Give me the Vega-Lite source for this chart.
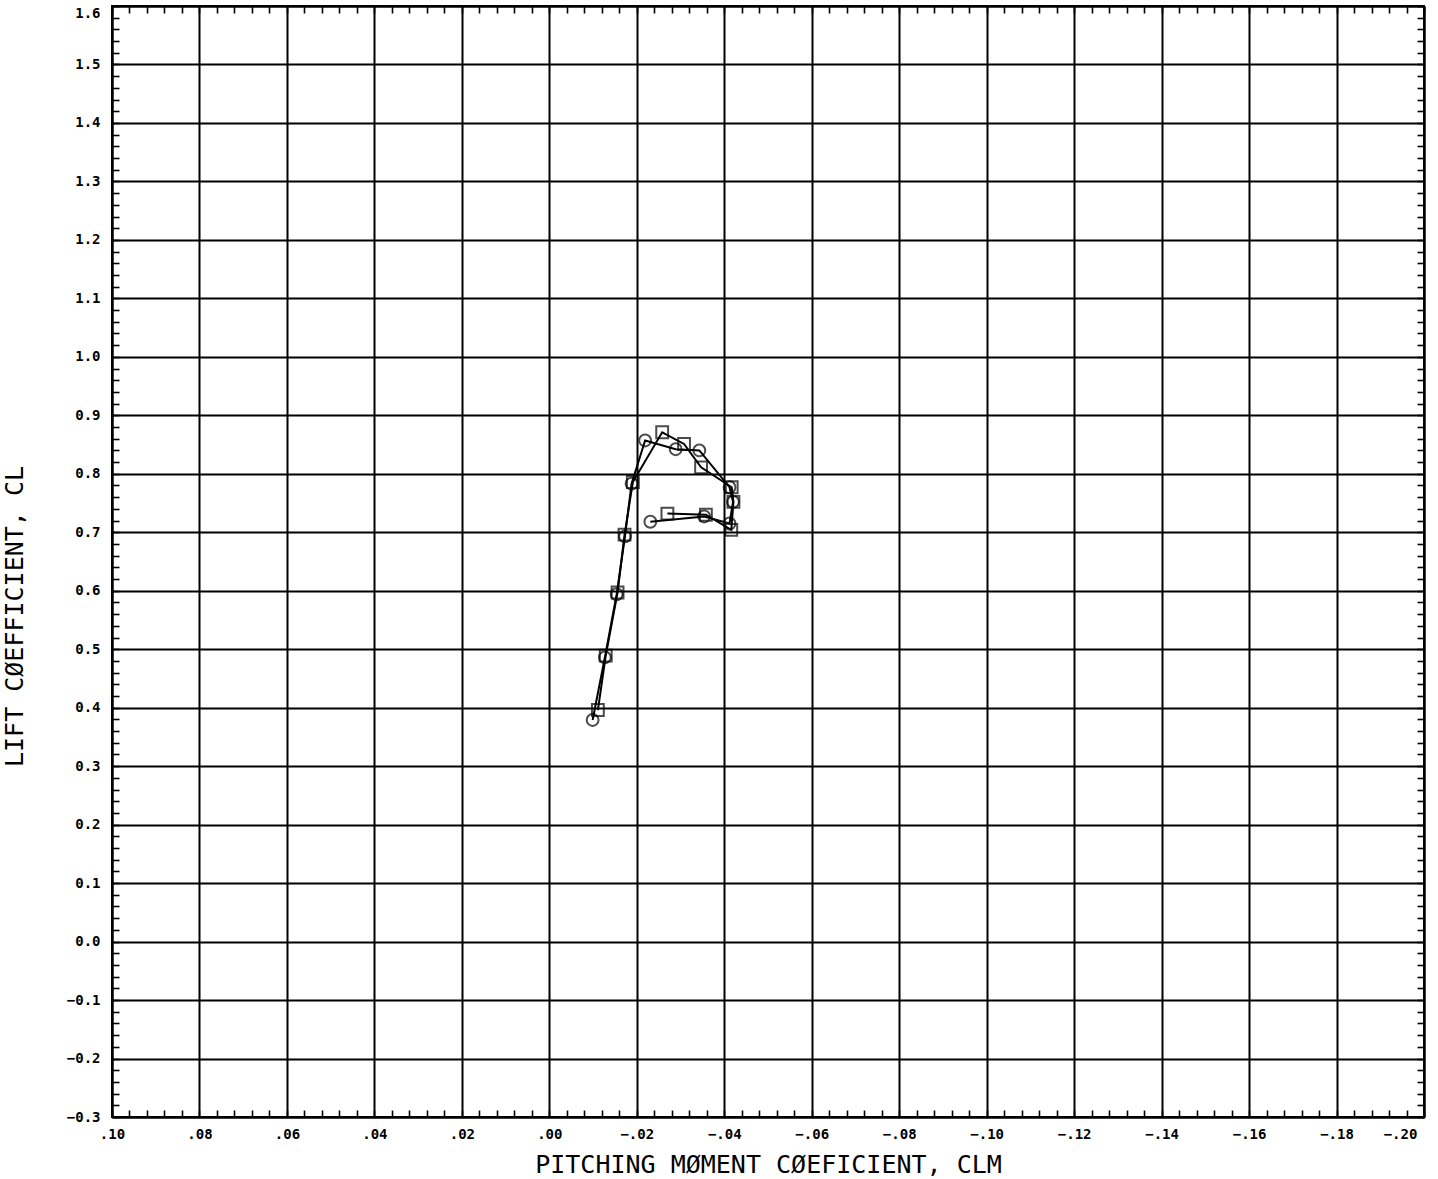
{
  "$schema": "https://vega.github.io/schema/vega-lite/v6.json",
  "width": 1312,
  "height": 1111,
  "autosize": {"type": "none"},
  "padding": {"left": 112, "top": 6, "right": 14, "bottom": 62},
  "background": "white",
  "config": {
    "view": {"stroke": "black", "strokeWidth": 2},
    "axis": {"domainColor": "black", "domainWidth": 2, "gridColor": "black", "gridWidth": 2, "gridOpacity": 1, "tickColor": "black", "tickWidth": 1.6, "labelColor": "black", "titleColor": "black"}
  },
  "data": {
    "values": [
      {"series": "circle", "order": 1, "clm": -0.0099, "cl": 0.379},
      {"series": "circle", "order": 2, "clm": -0.0127, "cl": 0.486},
      {"series": "circle", "order": 3, "clm": -0.0154, "cl": 0.594},
      {"series": "circle", "order": 4, "clm": -0.0173, "cl": 0.693},
      {"series": "circle", "order": 5, "clm": -0.0188, "cl": 0.783},
      {"series": "circle", "order": 6, "clm": -0.0219, "cl": 0.857},
      {"series": "circle", "order": 7, "clm": -0.0289, "cl": 0.842},
      {"series": "circle", "order": 8, "clm": -0.0343, "cl": 0.84},
      {"series": "circle", "order": 9, "clm": -0.0412, "cl": 0.777},
      {"series": "circle", "order": 10, "clm": -0.042, "cl": 0.752},
      {"series": "circle", "order": 11, "clm": -0.0412, "cl": 0.715},
      {"series": "circle", "order": 12, "clm": -0.0354, "cl": 0.727},
      {"series": "circle", "order": 13, "clm": -0.0231, "cl": 0.718},
      {"series": "square", "order": 1, "clm": -0.0111, "cl": 0.396},
      {"series": "square", "order": 2, "clm": -0.0129, "cl": 0.489},
      {"series": "square", "order": 3, "clm": -0.0156, "cl": 0.597},
      {"series": "square", "order": 4, "clm": -0.0172, "cl": 0.696},
      {"series": "square", "order": 5, "clm": -0.0191, "cl": 0.786},
      {"series": "square", "order": 6, "clm": -0.0258, "cl": 0.871},
      {"series": "square", "order": 7, "clm": -0.0308, "cl": 0.851},
      {"series": "square", "order": 8, "clm": -0.0347, "cl": 0.811},
      {"series": "square", "order": 9, "clm": -0.0417, "cl": 0.777},
      {"series": "square", "order": 10, "clm": -0.0421, "cl": 0.752},
      {"series": "square", "order": 11, "clm": -0.0416, "cl": 0.704},
      {"series": "square", "order": 12, "clm": -0.0358, "cl": 0.73},
      {"series": "square", "order": 13, "clm": -0.027, "cl": 0.732}
    ]
  },
  "resolve": {"axis": {"x": "independent", "y": "independent"}},
  "layer": [
    {
      "mark": {"type": "line", "color": "black", "strokeWidth": 2},
      "encoding": {
        "x": {"field": "clm", "type": "quantitative",
          "scale": {"domain": [-0.2, 0.1], "reverse": true, "nice": false, "zero": false},
          "axis": {"orient": "bottom", "values": [0.1, 0.08, 0.06, 0.04, 0.02, 0, -0.02, -0.04, -0.06, -0.08, -0.1, -0.12, -0.14, -0.16, -0.18, -0.2],
            "grid": true, "ticks": false, "domain": true, "labelPadding": 10,
            "labelExpr": "replace(format(datum.value, '.2f'), '0.', '.')",
            "labelOffset": {"expr": "datum.value < -0.199 ? -24 : 0"},
            "labelFont": "DejaVu Sans Mono", "labelFontWeight": "bold", "labelFontSize": 14, "labelFlush": false, "labelOverlap": false, "labelBound": false,
            "title": "PITCHING MØMENT CØEFICIENT, CLM", "titleFont": "DejaVu Sans Mono", "titleFontWeight": "normal", "titleFontSize": 25, "titleY": 35, "titleBaseline": "top"}},
        "y": {"field": "cl", "type": "quantitative",
          "scale": {"domain": [-0.3, 1.6], "nice": false, "zero": false},
          "axis": {"orient": "left", "values": [-0.3, -0.2, -0.1, 0, 0.1, 0.2, 0.3, 0.4, 0.5, 0.6, 0.7, 0.8, 0.9, 1.0, 1.1, 1.2, 1.3, 1.4, 1.5, 1.6],
            "grid": true, "ticks": false, "domain": true, "labelPadding": 12, "format": ".1f",
            "labelOffset": {"expr": "datum.value > 1.59 ? 7 : 0"},
            "labelFont": "DejaVu Sans Mono", "labelFontWeight": "bold", "labelFontSize": 14, "labelFlush": false, "labelOverlap": false, "labelBound": false,
            "title": "LIFT CØEFFICIENT, CL", "titleFont": "DejaVu Sans Mono", "titleFontWeight": "normal", "titleFontSize": 25, "titleX": -85, "titleY": 610, "titleBaseline": "bottom"}},
        "detail": {"field": "series"},
        "order": {"field": "order", "type": "quantitative"}
      }
    },
    {
      "transform": [{"filter": "datum.series === 'circle'"}],
      "mark": {"type": "point", "shape": "circle", "filled": false, "color": "black", "strokeWidth": 2, "size": 140},
      "encoding": {
        "x": {"field": "clm", "type": "quantitative",
          "axis": {"orient": "bottom", "values": [0.1,0.096,0.092,0.088,0.084,0.08,0.076,0.072,0.068,0.064,0.06,0.056,0.052,0.048,0.044,0.04,0.036,0.032,0.028,0.024,0.02,0.016,0.012,0.008,0.004,0,-0.004,-0.008,-0.012,-0.016,-0.02,-0.024,-0.028,-0.032,-0.036,-0.04,-0.044,-0.048,-0.052,-0.056,-0.06,-0.064,-0.068,-0.072,-0.076,-0.08,-0.084,-0.088,-0.092,-0.096,-0.1,-0.104,-0.108,-0.112,-0.116,-0.12,-0.124,-0.128,-0.132,-0.136,-0.14,-0.144,-0.148,-0.152,-0.156,-0.16,-0.164,-0.168,-0.172,-0.176,-0.18,-0.184,-0.188,-0.192,-0.196,-0.2],
            "grid": false, "labels": false, "domain": false, "ticks": true, "tickSize": -7, "title": null}},
        "y": {"field": "cl", "type": "quantitative",
          "axis": {"orient": "left", "values": [-0.3,-0.28,-0.26,-0.24,-0.22,-0.2,-0.18,-0.16,-0.14,-0.12,-0.1,-0.08,-0.06,-0.04,-0.02,0,0.02,0.04,0.06,0.08,0.1,0.12,0.14,0.16,0.18,0.2,0.22,0.24,0.26,0.28,0.3,0.32,0.34,0.36,0.38,0.4,0.42,0.44,0.46,0.48,0.5,0.52,0.54,0.56,0.58,0.6,0.62,0.64,0.66,0.68,0.7,0.72,0.74,0.76,0.78,0.8,0.82,0.84,0.86,0.88,0.9,0.92,0.94,0.96,0.98,1,1.02,1.04,1.06,1.08,1.1,1.12,1.14,1.16,1.18,1.2,1.22,1.24,1.26,1.28,1.3,1.32,1.34,1.36,1.38,1.4,1.42,1.44,1.46,1.48,1.5,1.52,1.54,1.56,1.58,1.6],
            "grid": false, "labels": false, "domain": false, "ticks": true, "tickSize": -7, "title": null}}
      }
    },
    {
      "transform": [{"filter": "datum.series === 'square'"}],
      "mark": {"type": "point", "shape": "square", "filled": false, "color": "black", "strokeWidth": 2, "size": 140},
      "encoding": {
        "x": {"field": "clm", "type": "quantitative",
          "axis": {"orient": "top", "values": [0.1,0.096,0.092,0.088,0.084,0.08,0.076,0.072,0.068,0.064,0.06,0.056,0.052,0.048,0.044,0.04,0.036,0.032,0.028,0.024,0.02,0.016,0.012,0.008,0.004,0,-0.004,-0.008,-0.012,-0.016,-0.02,-0.024,-0.028,-0.032,-0.036,-0.04,-0.044,-0.048,-0.052,-0.056,-0.06,-0.064,-0.068,-0.072,-0.076,-0.08,-0.084,-0.088,-0.092,-0.096,-0.1,-0.104,-0.108,-0.112,-0.116,-0.12,-0.124,-0.128,-0.132,-0.136,-0.14,-0.144,-0.148,-0.152,-0.156,-0.16,-0.164,-0.168,-0.172,-0.176,-0.18,-0.184,-0.188,-0.192,-0.196,-0.2],
            "grid": false, "labels": false, "domain": true, "ticks": true, "tickSize": -7, "title": null}},
        "y": {"field": "cl", "type": "quantitative",
          "axis": {"orient": "right", "values": [-0.3,-0.28,-0.26,-0.24,-0.22,-0.2,-0.18,-0.16,-0.14,-0.12,-0.1,-0.08,-0.06,-0.04,-0.02,0,0.02,0.04,0.06,0.08,0.1,0.12,0.14,0.16,0.18,0.2,0.22,0.24,0.26,0.28,0.3,0.32,0.34,0.36,0.38,0.4,0.42,0.44,0.46,0.48,0.5,0.52,0.54,0.56,0.58,0.6,0.62,0.64,0.66,0.68,0.7,0.72,0.74,0.76,0.78,0.8,0.82,0.84,0.86,0.88,0.9,0.92,0.94,0.96,0.98,1,1.02,1.04,1.06,1.08,1.1,1.12,1.14,1.16,1.18,1.2,1.22,1.24,1.26,1.28,1.3,1.32,1.34,1.36,1.38,1.4,1.42,1.44,1.46,1.48,1.5,1.52,1.54,1.56,1.58,1.6],
            "grid": false, "labels": false, "domain": true, "ticks": true, "tickSize": -7, "title": null}}
      }
    }
  ]
}
